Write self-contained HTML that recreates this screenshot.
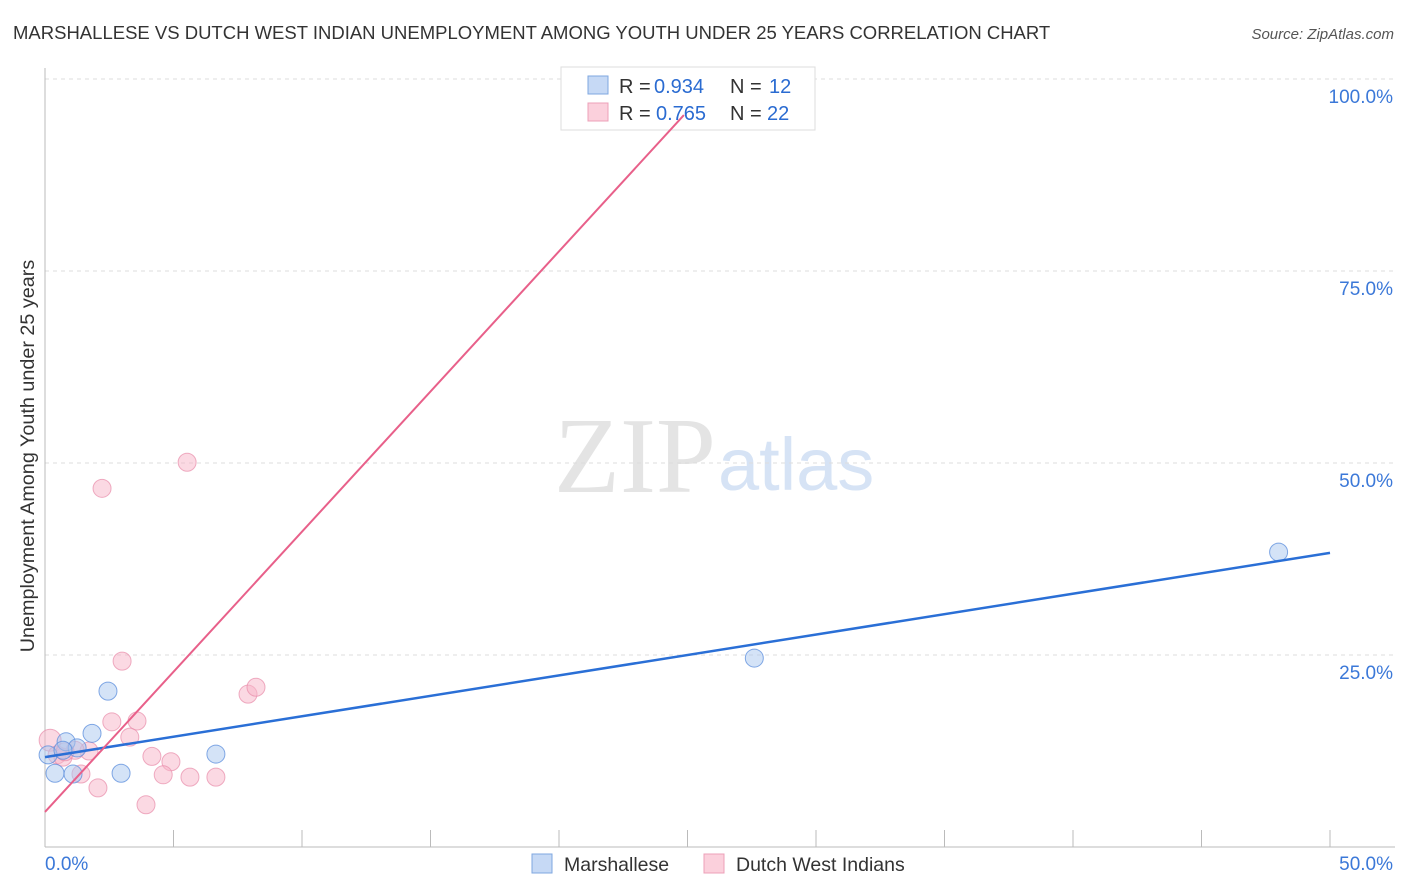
<!DOCTYPE html>
<html><head><meta charset="utf-8"><style>
body{margin:0;background:#fff;font-family:"Liberation Sans",sans-serif}
svg{display:block}
</style></head><body>
<svg width="1406" height="892" id="c">
<text x="13" y="39" font-size="18.5" fill="#333">MARSHALLESE VS DUTCH WEST INDIAN UNEMPLOYMENT AMONG YOUTH UNDER 25 YEARS CORRELATION CHART</text>
<text x="1394" y="39" font-size="15" fill="#555" font-style="italic" text-anchor="end">Source: ZipAtlas.com</text>
<text x="716" y="492" font-size="108" fill="#e4e4e4" font-family="Liberation Serif,serif" text-anchor="end">ZIP</text>
<text x="718" y="490" font-size="74" fill="#d6e3f5">atlas</text>
<text transform="translate(34,456) rotate(-90)" font-size="19.8" fill="#333" text-anchor="middle">Unemployment Among Youth under 25 years</text>
<g id="grid"></g><g id="pts"></g>
<g>
<rect x="561" y="67" width="254" height="63" fill="#fff" stroke="#ddd"/>
<rect x="588" y="76" width="20" height="18" fill="#c6d9f5" stroke="#7fa7e0"/>
<rect x="588" y="103" width="20" height="18" fill="#fbd0dc" stroke="#eda0b8"/>
<text x="619" y="93" font-size="20" fill="#333">R =</text>
<text x="654" y="93" font-size="20" fill="#2a6bd1">0.934</text>
<text x="730" y="93" font-size="20" fill="#333">N =</text>
<text x="769" y="93" font-size="20" fill="#2a6bd1">12</text>
<text x="619" y="120" font-size="20" fill="#333">R =</text>
<text x="656" y="120" font-size="20" fill="#2a6bd1">0.765</text>
<text x="730" y="120" font-size="20" fill="#333">N =</text>
<text x="767" y="120" font-size="20" fill="#2a6bd1">22</text>
</g>
<g id="lines"></g>
<g>
<rect x="532" y="854" width="20" height="19" fill="#c6d9f5" stroke="#7fa7e0"/>
<text x="564" y="871" font-size="19.5" fill="#333">Marshallese</text>
<rect x="704" y="854" width="20" height="19" fill="#fbd0dc" stroke="#eda0b8"/>
<text x="736" y="871" font-size="19.5" fill="#333">Dutch West Indians</text>
</g>
</svg>
<script>
const yTicks=[25,50,75,100];
const xTickLabels=["0.0%","50.0%"];
const blueX=[2.45,1.83,0.82,1.25,0.39,1.09,2.96,6.65,0.12,0.70,48.0,27.6];
const blueY=[20.3,14.8,13.7,12.9,9.6,9.5,9.6,12.1,12.0,12.6,38.4,24.6];
const pinkX=[3.0,2.6,3.58,3.3,4.16,4.9,4.6,5.64,6.65,2.06,3.93,1.4,1.71,7.9,8.21,0.2,0.47,0.7,2.22,5.53,1.17,0.78];
const pinkY=[24.2,16.3,16.4,14.3,11.8,11.1,9.4,9.1,9.1,7.7,5.5,9.5,12.5,19.9,20.8,13.9,12.0,11.7,46.7,50.1,12.6,12.4];
const blueLine=[11.7,38.3];
const pinkLine=[4.56,95.3,24.86];
const sx=v=>45+v/50*1285, sy=v=>847-v/25*192;
const NS="http://www.w3.org/2000/svg";
function mk(t,a,p){const e=document.createElementNS(NS,t);for(const k in a)e.setAttribute(k,a[k]);document.getElementById(p).appendChild(e);return e;}
yTicks.forEach(t=>{
 const l=mk('line',{x1:45,x2:1395,y1:sy(t),y2:sy(t),stroke:'#ddd','stroke-dasharray':'4,4'},'grid');
 
 
 const tx=mk('text',{x:1393,y:sy(t)+24,'font-size':19,fill:'#3b78d8','text-anchor':'end'},'grid');
 tx.textContent=t.toFixed(1)+'%';
 
 
});
mk('line',{x1:45,x2:45,y1:68,y2:847,stroke:'#bbb'},'grid');
mk('line',{x1:45,x2:1395,y1:847,y2:847,stroke:'#bbb'},'grid');
for(let i=0;i<=10;i++){const x=sx(i*5);const t=mk('line',{x1:x,x2:x,y1:830,y2:847,stroke:'#bbb'},'grid');
 
 }
const x0=mk('text',{x:45,y:870,'font-size':19,fill:'#3b78d8'},'grid');x0.textContent=xTickLabels[0];


const x1=mk('text',{x:1393,y:870,'font-size':19,fill:'#3b78d8','text-anchor':'end'},'grid');x1.textContent=xTickLabels[1];


pinkX.forEach((v,i)=>{const c=mk('circle',{cx:sx(v),cy:sy(pinkY[i]),r:i==15?11:9,fill:'rgba(248,180,200,0.5)',stroke:'rgba(232,140,170,0.7)'},'pts');
 
 });
blueX.forEach((v,i)=>{const c=mk('circle',{cx:sx(v),cy:sy(blueY[i]),r:9,fill:'rgba(170,200,240,0.5)',stroke:'rgba(90,140,220,0.75)'},'pts');
 
 });
const bl=mk('line',{x1:sx(0),y1:sy(blueLine[0]),x2:sx(50),y2:sy(blueLine[1]),stroke:'#2a6fd6','stroke-width':2.5},'lines');


const pl=mk('line',{x1:sx(0),y1:sy(pinkLine[0]),x2:sx(pinkLine[2]),y2:sy(pinkLine[1]),stroke:'#e8608a','stroke-width':2},'lines');


</script>
</body></html>
